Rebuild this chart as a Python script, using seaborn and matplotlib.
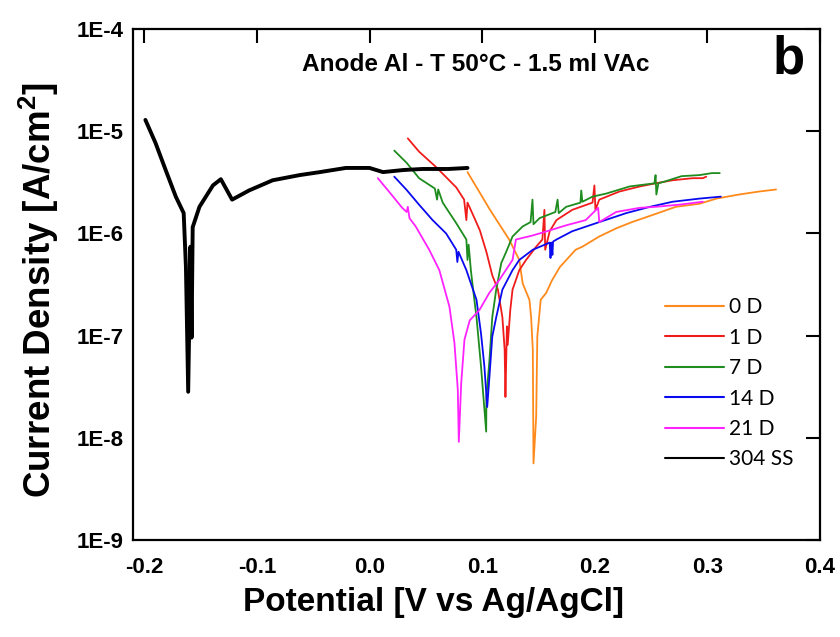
import matplotlib
matplotlib.use("Agg")
import matplotlib.pyplot as plt
import matplotlib.ticker as mticker
from matplotlib.lines import Line2D
import seaborn as sns
import pandas as pd

# ---------------- data ----------------
series_names = ["0 D", "1 D", "7 D", "14 D", "21 D", "304 SS"]
series_colors = ["#FF8A1C", "#F01C1C", "#1E8C1E", "#0A0AF0", "#FF22FF", "#000000"]

pot_0D = [0.087, 0.107, 0.124, 0.133, 0.136, 0.142, 0.1435, 0.145, 0.1456, 0.148, 0.149,
          0.152, 0.157, 0.162, 0.169, 0.183, 0.189, 0.204, 0.219, 0.233, 0.251, 0.272,
          0.293, 0.308, 0.328, 0.346, 0.361]
cd_0D = [3.98e-6, 1.70e-6, 8.71e-7, 5.50e-7, 3.24e-7, 2.24e-7, 1.51e-7, 7.24e-8, 5.62e-9,
         1.62e-8, 9.77e-8, 2.24e-7, 2.63e-7, 3.47e-7, 4.68e-7, 6.92e-7, 7.41e-7, 9.33e-7,
         1.12e-6, 1.29e-6, 1.51e-6, 1.82e-6, 1.95e-6, 2.19e-6, 2.40e-6, 2.57e-6, 2.69e-6]

pot_1D = [0.034, 0.044, 0.059, 0.077, 0.084, 0.086, 0.087, 0.092, 0.098, 0.104, 0.109,
          0.114, 0.118, 0.120, 0.1207, 0.122, 0.1227, 0.125, 0.127, 0.133, 0.139, 0.148,
          0.1535, 0.1553, 0.156, 0.160, 0.166, 0.180, 0.198, 0.1997, 0.2006, 0.204, 0.222,
          0.240, 0.254, 0.269, 0.287, 0.296, 0.299]
cd_1D = [8.51e-6, 6.31e-6, 4.47e-6, 2.82e-6, 2.14e-6, 1.35e-6, 2.00e-6, 1.51e-6, 1.07e-6,
         6.46e-7, 3.89e-7, 2.82e-7, 1.51e-7, 7.24e-8, 2.51e-8, 1.23e-7, 8.13e-8, 1.78e-7,
         2.82e-7, 4.37e-7, 5.50e-7, 7.41e-7, 8.71e-7, 1.70e-6, 6.92e-7, 1.05e-6, 1.35e-6,
         1.70e-6, 2.00e-6, 2.95e-6, 1.70e-6, 2.14e-6, 2.57e-6, 2.88e-6, 3.09e-6, 3.31e-6,
         3.47e-6, 3.47e-6, 3.59e-6]

pot_7D = [0.022, 0.033, 0.044, 0.058, 0.060, 0.061, 0.065, 0.077, 0.086, 0.087, 0.088,
          0.090, 0.092, 0.095, 0.099, 0.1036, 0.1038, 0.1065, 0.109, 0.1125, 0.117, 0.121,
          0.127, 0.136, 0.143, 0.1447, 0.1456, 0.151, 0.165, 0.167, 0.168, 0.1746, 0.1873,
          0.188, 0.189, 0.198, 0.210, 0.231, 0.253, 0.254, 0.2547, 0.2565, 0.263, 0.277,
          0.293, 0.304, 0.311]
cd_7D = [6.46e-6, 4.90e-6, 3.47e-6, 2.75e-6, 2.14e-6, 2.69e-6, 2.00e-6, 1.26e-6, 8.71e-7,
         5.50e-7, 7.76e-7, 4.37e-7, 2.82e-7, 1.51e-7, 5.01e-8, 1.15e-8, 2.51e-8, 5.75e-8,
         1.51e-7, 2.82e-7, 5.13e-7, 6.46e-7, 9.33e-7, 1.17e-6, 1.29e-6, 2.14e-6, 1.23e-6,
         1.41e-6, 1.62e-6, 2.14e-6, 1.58e-6, 1.82e-6, 2.00e-6, 2.63e-6, 2.04e-6, 2.29e-6,
         2.45e-6, 2.88e-6, 3.09e-6, 3.72e-6, 2.40e-6, 3.09e-6, 3.24e-6, 3.63e-6, 3.72e-6,
         3.89e-6, 3.89e-6]

pot_14D = [0.022, 0.033, 0.044, 0.056, 0.068, 0.077, 0.078, 0.079, 0.086, 0.095, 0.099,
           0.102, 0.1045, 0.1065, 0.109, 0.1125, 0.118, 0.127, 0.133, 0.145, 0.160, 0.1607,
           0.1615, 0.1624, 0.163, 0.166, 0.180, 0.204, 0.228, 0.249, 0.269, 0.293, 0.312]
cd_14D = [3.59e-6, 2.66e-6, 1.91e-6, 1.35e-6, 1.00e-6, 6.92e-7, 5.25e-7, 6.61e-7, 4.37e-7,
          2.24e-7, 1.05e-7, 5.01e-8, 2.00e-8, 3.98e-8, 9.77e-8, 1.51e-7, 2.82e-7, 4.37e-7,
          5.50e-7, 6.92e-7, 8.13e-7, 5.75e-7, 8.13e-7, 6.17e-7, 8.32e-7, 8.71e-7, 1.05e-6,
          1.29e-6, 1.58e-6, 1.82e-6, 2.04e-6, 2.19e-6, 2.29e-6]

pot_21D = [0.0074, 0.018, 0.029, 0.033, 0.034, 0.0355, 0.041, 0.053, 0.062, 0.071, 0.0754,
           0.0784, 0.0793, 0.0814, 0.0843, 0.089, 0.0976, 0.1065, 0.115, 0.127, 0.130,
           0.145, 0.160, 0.1746, 0.192, 0.203, 0.204, 0.219, 0.240, 0.254, 0.275, 0.296]
cd_21D = [3.47e-6, 2.51e-6, 1.78e-6, 1.62e-6, 1.82e-6, 1.41e-6, 1.17e-6, 6.92e-7, 4.37e-7,
          1.91e-7, 8.51e-8, 2.95e-8, 9.12e-9, 3.39e-8, 9.12e-8, 1.41e-7, 1.78e-7, 2.63e-7,
          3.47e-7, 5.50e-7, 8.71e-7, 9.55e-7, 1.07e-6, 1.20e-6, 1.35e-6, 1.78e-6, 1.29e-6,
          1.62e-6, 1.78e-6, 1.82e-6, 1.91e-6, 2.04e-6]

pot_SS = [-0.199, -0.190, -0.181, -0.172, -0.165, -0.163, -0.161, -0.159, -0.158, -0.157,
          -0.151, -0.139, -0.132, -0.128, -0.122, -0.107, -0.086, -0.062, -0.044, -0.021,
          0.000, 0.012, 0.030, 0.047, 0.070, 0.087]
cd_SS = [1.29e-5, 7.67e-6, 4.17e-6, 2.29e-6, 1.58e-6, 4.68e-7, 2.82e-8, 7.41e-7, 9.55e-8,
         1.15e-6, 1.82e-6, 2.95e-6, 3.39e-6, 2.82e-6, 2.14e-6, 2.63e-6, 3.31e-6, 3.72e-6,
         3.98e-6, 4.37e-6, 4.37e-6, 3.98e-6, 4.17e-6, 4.27e-6, 4.27e-6, 4.37e-6]

x_ticks = [-0.2, -0.1, 0.0, 0.1, 0.2, 0.3, 0.4]
x_tick_labels = ["-0.2", "-0.1", "0.0", "0.1", "0.2", "0.3", "0.4"]
y_ticks = [1e-9, 1e-8, 1e-7, 1e-6, 1e-5, 1e-4]
y_tick_labels = ["1E-9", "1E-8", "1E-7", "1E-6", "1E-5", "1E-4"]

title_text = "Anode Al - T 50°C - 1.5 ml VAc"
panel_letter = "b"
x_label = "Potential [V vs Ag/AgCl]"
y_label = "Current Density [A/cm$^\\mathbf{2}$]"

# ---------------- build long table ----------------
pots = [pot_0D, pot_1D, pot_7D, pot_14D, pot_21D, pot_SS]
cds = [cd_0D, cd_1D, cd_7D, cd_14D, cd_21D, cd_SS]
frames = []
for name, p, c in zip(series_names, pots, cds):
    d = pd.DataFrame({"Potential": p, "CD": c})
    d["Series"] = name
    frames.append(d)
df = pd.concat(frames, ignore_index=True)

# ---------------- plot ----------------
sns.set_style("white")
plt.rcParams["font.family"] = ["Liberation Sans", "DejaVu Sans"]
plt.rcParams["mathtext.fontset"] = "custom"
plt.rcParams["mathtext.bf"] = "Liberation Sans:bold"
plt.rcParams["mathtext.rm"] = "Liberation Sans"
plt.rcParams["text.color"] = "black"
plt.rcParams["axes.labelcolor"] = "black"
plt.rcParams["xtick.color"] = "black"
plt.rcParams["ytick.color"] = "black"

AR = ["Liberation Sans", "DejaVu Sans"]

fig = plt.figure(figsize=(8.4, 6.37), dpi=100)
ax = fig.add_axes([133 / 840, 97 / 637, 687 / 840, 511 / 637])

palette = dict(zip(series_names, series_colors))
for name in series_names:
    sub = df[df["Series"] == name]
    sns.lineplot(data=sub, x="Potential", y="CD", color=palette[name], sort=False,
                 estimator=None, lw=2.8 if name == "304 SS" else 1.3, ax=ax, legend=False)

ax.set_yscale("log")
ax.set_xlim(-0.21, 0.4)
ax.set_ylim(1e-9, 1e-4)

ax.xaxis.set_major_locator(mticker.FixedLocator(x_ticks))
ax.xaxis.set_major_formatter(mticker.FixedFormatter(x_tick_labels))
ax.yaxis.set_major_locator(mticker.FixedLocator(y_ticks))
ax.yaxis.set_major_formatter(mticker.FixedFormatter(y_tick_labels))
ax.yaxis.set_minor_locator(mticker.NullLocator())
ax.xaxis.set_minor_locator(mticker.NullLocator())

ax.tick_params(axis="both", which="major", direction="in", length=10, width=1.5,
               top=True, right=True, labelsize=16, colors="black")
ax.tick_params(axis="x", pad=12)
ax.tick_params(axis="y", pad=7)
for lab in ax.get_xticklabels() + ax.get_yticklabels():
    lab.set_fontweight("bold")
    lab.set_family(AR)

for sp in ax.spines.values():
    sp.set_linewidth(1.6)
    sp.set_color("black")

ax.set_xlabel(x_label, fontsize=24, fontweight="bold", va="center", family=AR)
ax.set_ylabel(y_label, fontsize=26.5, fontweight="bold", va="center", family=AR)
ax.xaxis.set_label_coords(0.437, -0.123)
ax.yaxis.set_label_coords(-0.137, 0.489)

ax.text(0.499, 0.931, title_text, transform=ax.transAxes, ha="center", va="center",
        fontsize=17.6, fontweight="bold", family=AR)
ax.text(0.955, 0.94, panel_letter, transform=ax.transAxes, ha="center", va="center",
        fontsize=38, fontweight="bold", family=AR)

handles = [Line2D([], [], color=c, lw=1.5) for c in series_colors]
leg = ax.legend(handles, series_names, loc="upper left", bbox_to_anchor=(0.775, 0.475),
                frameon=False, borderaxespad=0, borderpad=0, handlelength=2.8,
                handletextpad=0.25, labelspacing=0.5,
                prop={"family": ["Lato", "DejaVu Sans"], "size": 15})

fig.savefig("out.png", dpi=100)
